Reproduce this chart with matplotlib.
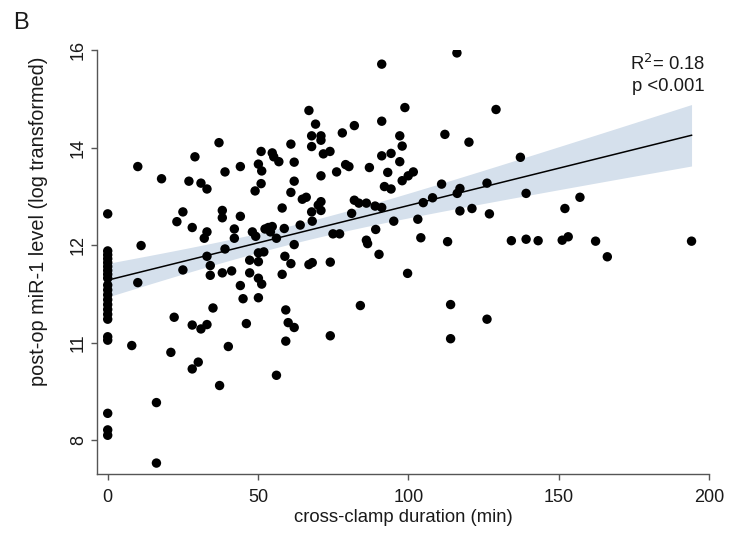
import numpy as np
import matplotlib
matplotlib.use("Agg")
import matplotlib.pyplot as plt

plt.rcParams['font.family'] = ['Liberation Sans', 'DejaVu Sans']

# cross-clamp duration (min) and post-op miR-1 level
clamp_min = [
    0, 0, 0, 0, 0, 0, 0, 0, 0, 0, 0, 0, 0, 0, 0, 0, 0, 0, 0, 0, 0, 0,
    91.1, 66.9, 98.8, 91.1, 69.1, 82.0, 78.0, 67.8, 70.9, 70.9, 97.1, 37.0,
    60.9, 67.8, 97.9, 51.0, 54.7, 73.9, 71.7, 94.2, 91.1, 29.0, 55.2, 56.9,
    62.0, 97.1, 50.1, 79.1, 80.2, 87.0, 10.0, 44.1, 51.2, 39.0, 76.1, 93.1,
    70.9, 17.9, 27.0, 62.0, 97.9, 99.9, 31.0, 51.0, 33.0, 92.0, 94.2, 49.0,
    60.9, 66.0, 64.7, 82.0, 83.5, 86.0, 70.9, 70.0, 88.9, 91.1, 58.0, 70.9,
    67.8, 81.1, 25.0, 38.1, 38.1, 44.1, 23.0, 68.0, 95.1, 28.1, 42.1, 52.3,
    54.7, 58.7, 64.0, 89.1, 33.0, 48.1, 54.1, 49.2, 32.1, 42.1, 56.1, 74.9,
    77.1, 86.0, 86.4, 11.1, 62.0, 39.0, 90.2, 33.0, 47.2, 50.1, 51.9, 58.9,
    60.9, 66.9, 68.0, 74.0, 25.0, 34.1, 38.1, 41.2, 47.2, 58.0, 99.7, 53.4,
    50.1, 34.1, 50.1, 51.2, 10.0, 44.1, 45.0, 50.1, 35.0, 59.2, 22.1, 28.1,
    31.0, 33.0, 46.1, 60.0, 62.0, 84.0, 74.0, 59.2, 8.0, 40.1, 21.0, 30.1,
    28.1, 37.2, 56.1, 16.2, 16.2,
    116.1, 129.1, 112.1, 120.1, 137.2, 101.6, 111.0, 126.1, 117.1, 116.2,
    108.0, 104.9, 139.1, 157.0, 117.1, 121.1, 126.9, 152.0, 103.1, 104.1,
    113.0, 134.2, 139.1, 143.1, 151.1, 153.1, 162.2, 194.1, 166.1, 114.0,
    126.1, 114.0,
]
mir1_level = [
    12.64, 11.88, 11.80, 11.72, 11.64, 11.56, 11.48, 11.40, 11.32, 11.18,
    11.08, 10.98, 10.88, 10.78, 10.68, 10.58, 10.48, 10.12, 10.05, 8.55,
    8.21, 8.10,
    15.71, 14.76, 14.82, 14.54, 14.48, 14.45, 14.30, 14.24, 14.24, 14.15,
    14.24, 14.10, 14.07, 14.02, 14.03, 13.92, 13.89, 13.92, 13.87, 13.88,
    13.83, 13.81, 13.81, 13.71, 13.70, 13.71, 13.66, 13.65, 13.61, 13.59,
    13.61, 13.61, 13.52, 13.50, 13.50, 13.49, 13.42, 13.36, 13.31, 13.31,
    13.32, 13.42, 13.27, 13.26, 13.15, 13.20, 13.15, 13.11, 13.08, 12.98,
    12.94, 12.92, 12.86, 12.86, 12.89, 12.82, 12.80, 12.77, 12.76, 12.71,
    12.68, 12.65, 12.68, 12.71, 12.56, 12.59, 12.48, 12.49, 12.49, 12.36,
    12.33, 12.33, 12.38, 12.34, 12.41, 12.32, 12.27, 12.27, 12.27, 12.18,
    12.14, 12.14, 12.14, 12.23, 12.23, 12.10, 12.03, 11.99, 12.01, 11.92,
    11.81, 11.77, 11.69, 11.84, 11.86, 11.77, 11.62, 11.60, 11.64, 11.65,
    11.49, 11.58, 11.43, 11.47, 11.43, 11.40, 11.42, 12.36, 11.66, 11.38,
    11.32, 11.20, 11.23, 11.17, 10.90, 10.92, 10.71, 10.67, 10.52, 10.36,
    10.28, 10.37, 10.39, 10.41, 10.31, 10.76, 10.14, 10.03, 9.94, 9.92,
    9.80, 9.60, 9.46, 9.12, 9.33, 8.77, 7.53,
    15.94, 14.78, 14.27, 14.11, 13.80, 13.50, 13.25, 13.27, 13.16, 13.06,
    12.97, 12.87, 13.06, 12.98, 12.70, 12.75, 12.64, 12.75, 12.53, 12.15,
    12.07, 12.09, 12.12, 12.09, 12.10, 12.17, 12.08, 12.08, 11.76, 10.78,
    10.48, 10.08,
]

x_ticks = [0, 50, 100, 150, 200]
y_ticks = [8, 10, 12, 14, 16]
y_tick_labels = ["8", "11", "12", "14", "16"]

x = np.array(clamp_min)
y = np.array(mir1_level)

# linear fit with 95% confidence band
n = len(x)
slope, intercept = np.polyfit(x, y, 1)
resid = y - (intercept + slope * x)
s = np.sqrt(np.sum(resid ** 2) / (n - 2))
sxx = np.sum((x - x.mean()) ** 2)
xf = np.linspace(x.min(), x.max(), 200)
yf = intercept + slope * xf
half = 1.97 * s * np.sqrt(1.0 / n + (xf - x.mean()) ** 2 / sxx)

fig = plt.figure(figsize=(7.36, 5.4), dpi=100)
ax = fig.add_axes([0.1322, 0.1217, 0.8315, 0.7857])

ax.fill_between(xf, yf - half, yf + half, color='#d5e0ec', lw=0, zorder=1)
ax.plot(xf, yf, color='black', lw=1.1, zorder=2)
ax.scatter(x, y, s=46, color='black', edgecolors='none', zorder=3)

ax.set_xlim(-3.46, 200)
ax.set_ylim(7.30, 16)
ax.spines['top'].set_visible(False)
ax.spines['right'].set_visible(False)
for sp in ['left', 'bottom']:
    ax.spines[sp].set_color('#555555')
    ax.spines[sp].set_linewidth(1.0)

ax.set_xticks(x_ticks)
ax.set_yticks(y_ticks)
ax.set_yticklabels(y_tick_labels, rotation=90, va='center')
ax.tick_params(axis='both', length=4.5, width=1.0, color='#555555',
               labelsize=13, labelcolor='#1a1a1a')
ax.tick_params(axis='x', pad=6)
ax.tick_params(axis='y', pad=3)

ax.set_xlabel('cross-clamp duration (min)', fontsize=13.3, color='#1a1a1a', labelpad=2)
ax.set_ylabel('post-op miR-1 level (log transformed)', fontsize=14.3,
              color='#1a1a1a')
ax.yaxis.set_label_coords(-0.08, 0.597)

ax.text(0.993, 0.99, 'R$^2$= 0.18\np <0.001', transform=ax.transAxes,
        ha='right', va='top', fontsize=13.3, color='#1a1a1a', linespacing=1.3)

fig.text(0.018, 0.978, 'B', fontsize=17, ha='left', va='top', color='#1a1a1a')

fig.savefig('out.png', dpi=100)
